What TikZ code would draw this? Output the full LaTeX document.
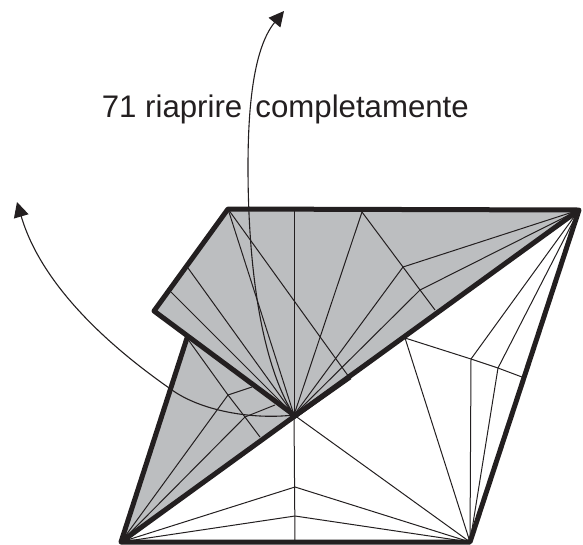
\documentclass[tikz,border=0pt]{standalone}
\usepackage{fontspec}
\setmainfont{Liberation Sans}
\usepackage{tikz}
\usetikzlibrary{arrows.meta}
\definecolor{ink}{HTML}{231F20}
\definecolor{softgrey}{HTML}{BCBEC0}
\tikzset{
  creaseline/.style={draw=ink,line width=1pt},
  edgeline/.style={draw=ink,line width=5pt,line join=round},
  flap/.style={fill=softgrey},
  movearrow/.style={draw=ink,line width=1.1pt,-{Triangle[length=15pt,width=15pt]}},
  caption/.style={font=\fontsize{31.2}{36}\selectfont,text=ink,inner sep=0pt,anchor=base west}
}

\begin{document}
\begin{tikzpicture}[x=1pt,y=-1pt]
  \useasboundingbox (0,0) rectangle (583,544);

  \coordinate (topleft) at (228,209);
  \coordinate (topright) at (579,210);
  \coordinate (center) at (294,415);
  \coordinate (botleft) at (121,542);
  \coordinate (botright) at (470,542);
  \coordinate (flapleft) at (154,311);
  \coordinate (notch) at (187,338);

  % Shaded flaps
  \fill[flap] (topleft) -- (topright) -- (center) -- (flapleft) -- cycle;
  \fill[flap] (botleft) -- (notch) -- (center) -- cycle;

  % Creases of the upper flap
  \coordinate (topmid) at (362,212);
  \coordinate (kinka) at (403,267);
  \coordinate (kinkb) at (420,290);
  \coordinate (diagend) at (435,310);
  \draw[creaseline] (center) -- (294,209);
  \draw[creaseline] (center) -- (topleft);
  \draw[creaseline] (center) -- (188,268);
  \draw[creaseline] (center) -- (171,292);
  \draw[creaseline] (center) -- (topmid);
  \draw[creaseline] (center) -- (kinka) -- (topright);
  \draw[creaseline] (center) -- (kinkb) -- (topright);
  \draw[creaseline] (topleft) -- (349,377);
  \draw[creaseline] (topmid) -- (kinka) -- (kinkb) -- (diagend);

  % Creases of the lower left flap
  \coordinate (lowa) at (228,395);
  \coordinate (lowb) at (245,417);
  \draw[creaseline] (notch) -- (lowa) -- (lowb) -- (260,437);
  \draw[creaseline] (botleft) -- (lowa) -- (252,387);
  \draw[creaseline] (botleft) -- (lowb) -- (275,405);

  % Creases of the white part
  \coordinate (whitea) at (295,487);
  \coordinate (whiteb) at (295,516);
  \coordinate (whitec) at (471,359);
  \coordinate (whited) at (498,368);
  \coordinate (whitetop) at (405,338);
  \draw[creaseline] (center) -- (295,542);
  \draw[creaseline] (center) -- (botright);
  \draw[creaseline] (botleft) -- (whitea) -- (botright);
  \draw[creaseline] (botleft) -- (whiteb) -- (botright);
  \draw[creaseline] (botright) -- (whitetop) -- (whitec) -- (whited) -- (522,377);
  \draw[creaseline] (botright) -- (whitec) -- (topright);
  \draw[creaseline] (botright) -- (whited) -- (topright);

  % Outline
  \draw[edgeline] (notch) -- (botleft) -- (botright) -- (topright) -- (topleft) -- (flapleft) -- (center);
  \draw[edgeline] (botleft) -- (topright);
  \draw[edgeline] (294,416.5) -- (350,377);

  % Arrows
  \draw[movearrow] (center) .. controls (262,365) and (248,270) .. (248,167) .. controls (248,115) and (252,50) .. (284,11);
  \draw[movearrow] (center) .. controls (250,420) and (200,410) .. (172,390) .. controls (100,340) and (40,280) .. (17,202);

  \node[caption] (title) at (101.7,117.3) {71 riaprire\hspace{4.5pt} completamente};
\end{tikzpicture}
\end{document}
